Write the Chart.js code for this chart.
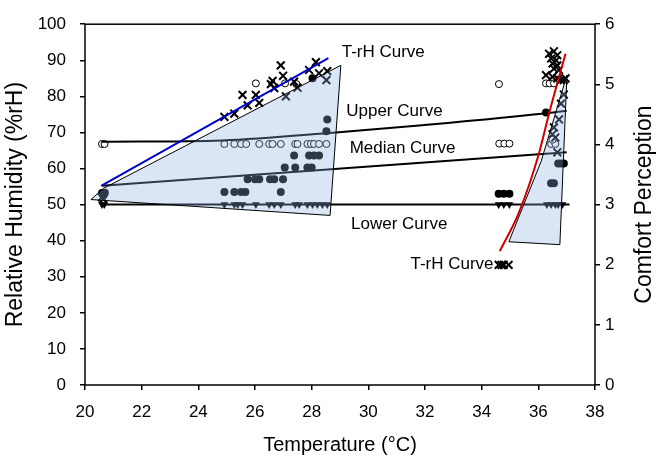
<!DOCTYPE html>
<html>
<head>
<meta charset="utf-8">
<script src="https://cdn.jsdelivr.net/npm/chart.js@4.4.1/dist/chart.umd.min.js"></script>
<style>
html,body{margin:0;padding:0;background:#fff;}
</style>
</head>
<body>
<canvas id="c" width="659" height="465"></canvas>
<script>
// x-marks (T, rH)
var crossT  = [24.92,25.27,25.56,25.74,26.03,26.15,26.56,26.62,26.68,26.91,26.99,27.38,27.09,27.50,27.91,28.15,28.26,28.55,28.52,
               20.65,20.60,
               36.38,36.55,36.67,36.45,36.63,36.50,36.67,36.55,36.73,36.27,36.50,36.67,36.79,36.90,36.96,
               36.73,36.55,36.50,36.60,36.67,36.80,36.90,
               34.60,34.70,34.78,34.95];
var crossRH = [74.3,75.2,80.4,77.5,80.4,78.2,83.4,84.3,82.3,88.6,85.7,84.1,80.0,82.4,87.3,89.5,86.4,87.0,84.5,
               51.5,52.0,
               91.8,92.5,91.4,90.5,90.0,89.1,88.6,87.7,87.3,85.9,85.4,85.0,84.5,84.5,85.0,
               73.6,71.4,69.5,68.6,64.5,78.0,80.5,
               33.3,33.3,33.3,33.3];
// open circles
var openT  = [20.60,20.69,
              24.92,25.27,25.51,25.69,26.15,26.50,26.62,26.91,27.42,27.50,27.85,27.97,28.08,28.26,28.52,
              26.03,27.06,27.46,
              34.61,34.62,34.80,34.98,
              36.27,36.40,36.55,
              36.45,36.60,36.50];
var openRH = [66.8,66.8,
              66.8,66.8,66.8,66.8,66.8,66.8,66.8,66.8,66.8,66.8,66.8,66.8,66.8,66.8,66.8,
              83.6,83.6,83.4,
              83.4,66.9,66.9,66.9,
              83.6,83.6,83.6,
              66.8,66.8,68.0];
// filled circles
var dotT  = [20.60,20.65,20.70,
             24.92,25.27,25.51,25.66,26.91,
             25.74,26.00,26.15,26.53,26.68,26.99,
             27.05,27.42,27.85,28.00,
             27.38,27.91,28.08,28.26,
             28.52,28.55,28.03,
             34.60,34.78,34.98,
             36.27,36.80,36.70,36.90,36.45,36.55];
var dotRH = [53.2,52.6,53.3,
             53.5,53.5,53.5,53.5,53.5,
             57.0,57.0,57.0,57.0,57.0,57.0,
             60.3,60.3,60.3,60.3,
             63.6,63.6,63.6,63.6,
             70.3,73.6,85.0,
             53.0,53.0,53.0,
             75.5,61.4,61.4,61.4,55.9,55.9];
// filled down-triangles
var triT  = [20.60,20.68,
             24.92,25.27,25.39,25.56,26.03,26.50,26.68,26.91,27.42,27.56,27.85,28.03,28.20,28.38,28.55,
             34.60,34.78,34.98,
             36.30,36.45,36.60,36.70,36.85];
var triRH = [50,50,
             50,50,50,50,50,50,50,50,50,50,50,50,50,50,50,
             50,50,50,
             50,50,50,50,50];

// shaded zones
var leftZoneT   = [20.21,20.65,29.03,28.65,20.21];
var leftZoneRH  = [51.4,54.5,88.6,47.0,51.4];
var rightZoneT  = [34.96,36.10,37.01,36.76,34.96];
var rightZoneRH = [39.7,62.0,85.9,38.9,39.7];

// fitted curves
var upperT   = [20.6,24.85,28.85,31.9,36.6,37.0];
var upperRH  = [67.4,67.8,70.0,72.0,75.6,76.0];
var medianT  = [20.6,37.0];
var medianRH = [55.2,64.5];
var lowerT   = [20.6,37.1];
var lowerRH  = [50.0,50.0];
var trhLeftT   = [20.57,28.59];
var trhLeftRH  = [55.2,90.6];
var trhRightT  = [34.64,35.31,36.02,36.37,36.96];
var trhRightRH = [37.1,47.7,64.1,75.0,91.8];

var FONT = "'Liberation Sans', Arial, sans-serif";

var toPts = function(xs, ys){
	var a = [], i;
	for( i=0; i<xs.length; i++ ){
		a.push({ x : xs[i], y : ys[i] });
	}
	return a;
};

// annotation texts, placed in data units
var notes = [
	{ text : "T-rH Curve",   x : 29.06, y : 92.3, align : "left" },
	{ text : "Upper Curve",  x : 29.22, y : 75.9, align : "left" },
	{ text : "Median Curve", x : 29.34, y : 65.5, align : "left" },
	{ text : "Lower Curve",  x : 29.39, y : 44.5, align : "left" },
	{ text : "T-rH Curve",   x : 34.42, y : 33.4, align : "right" }
];

var extras = {
	id : "extras",
	afterDatasetsDraw : function(chart){
		var ctx = chart.ctx, a = chart.chartArea;
		var sx = chart.scales.x, sy = chart.scales.y;
		ctx.save();
		ctx.fillStyle = "#000";
		ctx.font = "17px " + FONT;
		ctx.textBaseline = "middle";
		notes.forEach(function(n){
			ctx.textAlign = n.align;
			ctx.fillText(n.text, sx.getPixelForValue(n.x), sy.getPixelForValue(n.y));
		});
		// frame
		ctx.strokeStyle = "#000";
		ctx.lineWidth = 1.5;
		ctx.strokeRect(a.left, a.top, a.right - a.left, a.bottom - a.top);
		// right title, bottom-to-top
		ctx.translate(645, (a.top + a.bottom) / 2);
		ctx.rotate(-Math.PI / 2);
		ctx.textAlign = "center";
		ctx.font = "23px " + FONT;
		ctx.fillText("Comfort Perception", 0, 0);
		ctx.restore();
	}
};

var zoneFill = "rgba(140,178,225,0.32)";

new Chart(document.getElementById("c"), {
	type : "scatter",
	data : {
		datasets : [
			{ data : toPts(trhLeftT, trhLeftRH), showLine : true, borderColor : "#0000CC", borderWidth : 2, pointRadius : 0, order : 0 },
			{ data : toPts(trhRightT, trhRightRH), showLine : true, borderColor : "#CC0000", borderWidth : 2, pointRadius : 0, tension : 0.4, cubicInterpolationMode : "monotone", order : 0 },
			{ data : toPts(leftZoneT, leftZoneRH), showLine : true, fill : "shape", backgroundColor : zoneFill, borderColor : "#000", borderWidth : 1, pointRadius : 0, order : 1 },
			{ data : toPts(rightZoneT, rightZoneRH), showLine : true, fill : "shape", backgroundColor : zoneFill, borderColor : "#000", borderWidth : 1, pointRadius : 0, order : 1 },
			{ data : toPts(upperT, upperRH), showLine : true, borderColor : "#000", borderWidth : 2, pointRadius : 0, cubicInterpolationMode : "monotone", order : 2 },
			{ data : toPts(medianT, medianRH), showLine : true, borderColor : "#000", borderWidth : 2, pointRadius : 0, order : 2 },
			{ data : toPts(lowerT, lowerRH), showLine : true, borderColor : "#000", borderWidth : 2, pointRadius : 0, order : 2 },
			{ data : toPts(crossT, crossRH), pointStyle : "crossRot", pointRadius : 5.5, borderColor : "#000", borderWidth : 2, order : 3 },
			{ data : toPts(openT, openRH), pointStyle : "circle", pointRadius : 3.5, borderColor : "#000", backgroundColor : "#fff", borderWidth : 1, order : 3 },
			{ data : toPts(dotT, dotRH), pointStyle : "circle", pointRadius : 4, borderColor : "#000", backgroundColor : "#000", borderWidth : 0, order : 3 },
			{ data : toPts(triT, triRH), pointStyle : "triangle", rotation : 180, pointRadius : 4.5, borderColor : "#000", backgroundColor : "#000", borderWidth : 0, order : 3 }
		]
	},
	options : {
		responsive : false,
		animation : false,
		devicePixelRatio : 1,
		layout : { padding : { top : 18, left : 0, right : 0, bottom : 0 } },
		plugins : { legend : { display : false }, tooltip : { enabled : false } },
		scales : {
			x : {
				type : "linear", position : "bottom", min : 20, max : 38,
				afterFit : function(s){ s.height = 80; },
				border : { display : false },
				grid : { drawOnChartArea : false, drawTicks : true, tickLength : 5, color : "#000", lineWidth : 1.5 },
				ticks : { stepSize : 2, color : "#000", padding : 12, font : { family : FONT, size : 17 } },
				title : { display : true, text : "Temperature (°C)", color : "#000", padding : { top : 0, bottom : 8 }, font : { family : FONT, size : 20 } }
			},
			y : {
				type : "linear", position : "left", min : 0, max : 100,
				afterFit : function(s){ s.width = 85; },
				border : { display : false },
				grid : { drawOnChartArea : false, drawTicks : true, tickLength : 5, color : "#000", lineWidth : 1.5 },
				ticks : { stepSize : 10, color : "#000", padding : 14, font : { family : FONT, size : 17 } },
				title : { display : true, text : "Relative Humidity (%rH)", color : "#000", padding : { top : 2, bottom : 0 }, font : { family : FONT, size : 23 } }
			},
			y2 : {
				type : "linear", position : "right", min : 0, max : 6,
				afterFit : function(s){ s.width = 64; },
				border : { display : false },
				grid : { drawOnChartArea : false, drawTicks : true, tickLength : 5, color : "#000", lineWidth : 1.5 },
				ticks : { stepSize : 1, color : "#000", padding : 5, font : { family : FONT, size : 17 } }
			}
		}
	},
	plugins : [ extras ]
});
</script>
</body>
</html>
